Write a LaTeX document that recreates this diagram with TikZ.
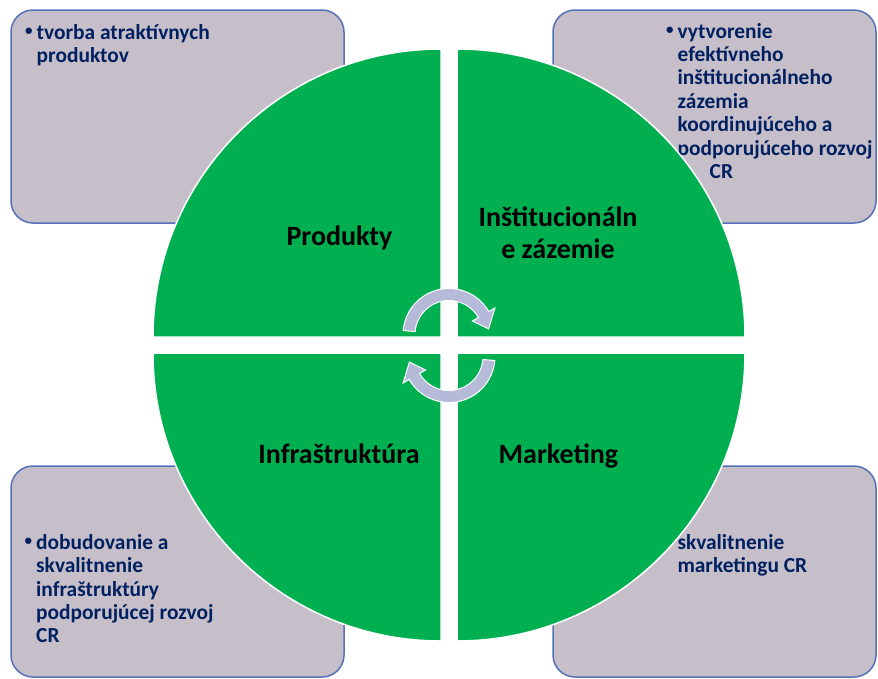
\documentclass[tikz,border=0pt]{standalone}
\usepackage{fontspec}
\setmainfont{Carlito}
\definecolor{cZelena}{HTML}{00B050}
\definecolor{cPole}{HTML}{C6BFCA}
\definecolor{cRamik}{HTML}{5470B8}
\definecolor{cModra}{HTML}{002060}
\definecolor{cSipka}{HTML}{B4BAD8}
\newcommand{\bodka}{\llap{\raisebox{4pt}{\fontsize{15}{15}\selectfont •}\hspace{4pt}}}

\begin{document}
\begin{tikzpicture}[x=1pt, y=-1pt,
		ramcek/.style={draw=cRamik, fill=cPole, line width=1.5pt, rounded corners=22pt},
		stvrtina/.style={fill=cZelena, draw=white, line width=1.5pt},
		sipka/.style={fill=cSipka, draw=white, line width=1pt},
		popis/.style={anchor=base west, inner sep=0pt, align=left, text=cModra, font=\fontsize{21.4}{23.4}\selectfont\bfseries},
		nazov/.style={anchor=base, inner sep=0pt, align=center, font=\fontsize{28}{31.6}\selectfont\bfseries}]
				\useasboundingbox (0,0) rectangle (878,678);
				\filldraw[ramcek] (11,10) rectangle (344,223);
				\filldraw[ramcek] (553,10) rectangle (876,223);
				\filldraw[ramcek] (11,466) rectangle (344,677);
				\filldraw[ramcek] (553,466) rectangle (876,677);
				\node[popis] (tvorba) at (36.5,62.7) {\bodka tvorba atraktívnych\\produktov};
				\node[popis] (vytvorenie) at (677.5,178.4) {\bodka vytvorenie\\efektívneho\\inštitucionálneho\\zázemia\\koordinujúceho a\\podporujúceho rozvoj\\\hspace*{32pt}CR};
				\node[popis] (dobudovanie) at (36,642.9) {\bodka dobudovanie a\\skvalitnenie\\infraštruktúry\\podporujúcej rozvoj\\CR};
				\node[popis] (skvalitnenie) at (677.3,572.7) {\bodka skvalitnenie\\marketingu CR};
				\filldraw[stvrtina] (441,337) -- (153,337) arc (180:270:288) -- cycle;
				\filldraw[stvrtina] (457,337) -- (745,337) arc (0:-90:288) -- cycle;
				\filldraw[stvrtina] (441,353) -- (153,353) arc (180:90:288) -- cycle;
				\filldraw[stvrtina] (457,353) -- (745,353) arc (0:90:288) -- cycle;
				\node[nazov] (produkty) at (339.5,245) {Produkty};
				\node[nazov] (zazemie) at (558,258.3) {Inštitucionáln\\e zázemie};
				\node[nazov] (infra) at (339,463) {Infraštruktúra};
				\node[nazov] (marketing) at (558.5,463) {Marketing};
				\filldraw[sipka, shift={(449,334.5)}] (185:46) arc (185:330:46) -- (330:53) -- (352:40) -- (330:27) -- (330:34) arc (330:185:34) -- cycle;
				\filldraw[sipka, shift={(449,356.5)}] (5:46) arc (5:150:46) -- (150:53) -- (172:40) -- (150:27) -- (150:34) arc (150:5:34) -- cycle;
			\end{tikzpicture}
\end{document}
